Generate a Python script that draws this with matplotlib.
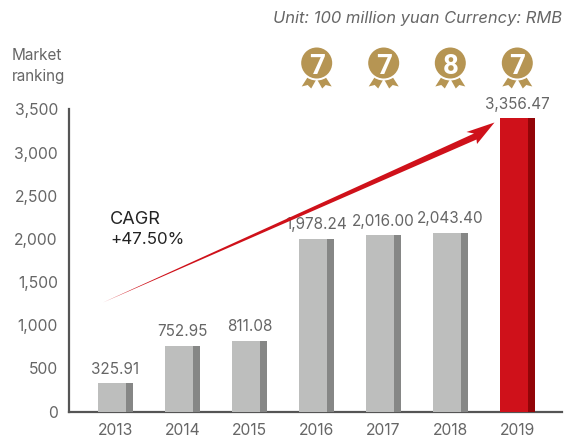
import matplotlib
matplotlib.use("Agg")
import matplotlib.pyplot as plt
from matplotlib.patches import Circle, Polygon

years = ["2013", "2014", "2015", "2016", "2017", "2018", "2019"]
values = [325.91, 752.95, 811.08, 1978.24, 2016.00, 2043.40, 3356.47]
value_labels = ["325.91", "752.95", "811.08", "1,978.24", "2,016.00", "2,043.40", "3,356.47"]
yticks = [0, 500, 1000, 1500, 2000, 2500, 3000, 3500]
ranks = ["7", "7", "8", "7"]
rank_x = [316.7, 383.7, 450.3, 517.3]

W, H = 565, 437
plt.rcParams["font.family"] = ["Inter", "DejaVu Sans"]
TXT = "#666666"
fig = plt.figure(figsize=(W / 100, H / 100), dpi=100)
L, R, T, B = 69, 562, 109.5, 411.5
ax = fig.add_axes([L / W, 1 - B / H, (R - L) / W, (B - T) / H])
ax.set_ylim(0, 3500)
ax.set_xlim((L - 115.5) / 67, (R - 115.5) / 67)
ax.patch.set_alpha(0)

# bars sit on a very slightly larger scale than the tick labels, as in the reference
bx = fig.add_axes(ax.get_position(), sharex=ax)
bx.set_ylim(0, 3455)
bx.axis("off")
bx.patch.set_alpha(0)

lw, dw = 28 / 67, 7 / 67
for i, v in enumerate(values):
    last = i == len(values) - 1
    bx.bar(i - (lw + dw) / 2, v, lw, align="edge", color="#cf111a" if last else "#bdbebd", zorder=2)
    bx.bar(i - (lw + dw) / 2 + lw, v, dw, align="edge", color="#920508" if last else "#868786", zorder=2)
    bx.annotate(value_labels[i], (i, v), xytext=(0, 10), textcoords="offset points",
                ha="center", va="center", fontsize=11, color=TXT, zorder=3)

ax.set_xticks(range(len(years)), years)
ax.set_yticks(yticks, [f"{t:,}" for t in yticks])
ax.tick_params(length=0, labelsize=11.3, labelcolor=TXT)
ax.tick_params(axis="x", pad=8.5)
ax.tick_params(axis="y", pad=8)
for s in ("top", "right"):
    ax.spines[s].set_visible(False)
for s in ("left", "bottom"):
    ax.spines[s].set_color("#555555")
    ax.spines[s].set_linewidth(1.6)

# page-space overlay in pixels (y down)
px = fig.add_axes([0, 0, 1, 1])
px.set_xlim(0, W)
px.set_ylim(H, 0)
px.axis("off")
px.patch.set_alpha(0)

# growth arrow
px.add_patch(Polygon([(103, 302.5), (474, 133.5), (466.5, 132), (494.5, 122.5), (477, 144), (476.5, 139.5)],
                     closed=True, color="#cf111a", lw=0, zorder=5))

px.text(110, 219, "CAGR", fontsize=13, color="#222222", va="center")
px.text(110, 240, "+47.50%", fontsize=12.2, color="#222222", va="center")
px.text(12, 56, "Market", fontsize=11, color=TXT, va="center")
px.text(12, 76, "ranking", fontsize=11, color=TXT, va="center")
px.text(562, 19, "Unit: 100 million yuan Currency: RMB", fontsize=11.9, color=TXT,
        style="italic", ha="right", va="center")

GOLD = "#b69553"
for cx, r in zip(rank_x, ranks):
    cy = 63
    for pts in ([(-7, 11), (-15, 23.5), (-9, 22), (-5.5, 25.5), (1, 14)],
                [(7, 11), (15, 23.5), (9, 22), (5.5, 25.5), (-1, 14)]):
        px.add_patch(Polygon([(cx + a, cy + b) for a, b in pts], color=GOLD, lw=0, zorder=4))
    px.add_patch(Circle((cx, cy), 17.5, fc="white", ec="none", zorder=4.5))
    px.add_patch(Circle((cx, cy), 15.5, fc=GOLD, ec="none", zorder=5))
    px.text(cx, cy + 0.5, r, color="white", fontsize=20, fontweight="bold", ha="center", va="center_baseline",
            family=["Roboto", "DejaVu Sans"], zorder=6)

fig.savefig("out.png", dpi=100, facecolor="white")
